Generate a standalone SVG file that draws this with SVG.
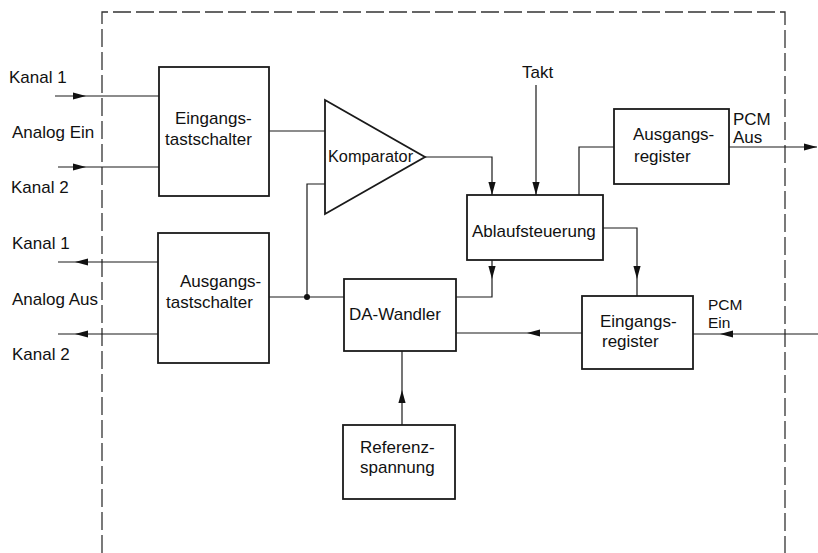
<svg xmlns="http://www.w3.org/2000/svg" xmlns:xlink="http://www.w3.org/1999/xlink" width="818" height="553" viewBox="0 0 818 553">
  <style>
    .box { fill: none; stroke: #1a1a1a; stroke-width: 1.8; }
    .wire { fill: none; stroke: #1a1a1a; stroke-width: 1.2; }
    .frame { fill: none; stroke: #333; stroke-width: 1.3; stroke-dasharray: 18 5; }
    .lbl { font-family: "Liberation Sans", Arial, sans-serif; font-size: 17px; fill: #111; }
    .small { font-size: 15.5px; }
    .head { fill: #111; stroke: none; }
  </style>
  <defs>
    <!-- filled arrowhead, tip at origin, pointing along +x -->
    <path id="ah" class="head" d="M0,0 L-13,-3.6 L-13,3.6 Z"/>
  </defs>
  <rect width="818" height="553" fill="#fff"/>

  <!-- chip boundary (dashed) -->
  <path class="frame" d="M102,553 L102,12 L785,12 L785,553"/>

  <!-- external labels -->
  <g id="analog-in-labels">
    <text class="lbl" x="9" y="83">Kanal 1</text>
    <text class="lbl" x="12" y="138">Analog Ein</text>
    <text class="lbl" x="11" y="193">Kanal 2</text>
  </g>
  <g id="analog-out-labels">
    <text class="lbl" x="12" y="249">Kanal 1</text>
    <text class="lbl" x="12" y="305">Analog Aus</text>
    <text class="lbl" x="12" y="360">Kanal 2</text>
  </g>
  <g id="takt-label">
    <text class="lbl" x="522" y="78">Takt</text>
  </g>
  <g id="pcm-out-label">
    <text class="lbl" x="733" y="125">PCM</text>
    <text class="lbl" x="733" y="143">Aus</text>
  </g>
  <g id="pcm-in-label">
    <text class="lbl small" x="708" y="310">PCM</text>
    <text class="lbl small" x="708" y="328">Ein</text>
  </g>

  <!-- blocks -->
  <g id="eingangstastschalter">
    <rect class="box" x="159" y="67" width="110" height="129"/>
    <text class="lbl" x="175" y="124">Eingangs-</text>
    <text class="lbl" x="165" y="145">tastschalter</text>
  </g>
  <g id="ausgangstastschalter">
    <rect class="box" x="158" y="233" width="111" height="130"/>
    <text class="lbl" x="180" y="287">Ausgangs-</text>
    <text class="lbl" x="166" y="308">tastschalter</text>
  </g>
  <g id="komparator">
    <path class="box" d="M325,100 L425,157 L325,214 Z"/>
    <text class="lbl" x="328" y="162" style="font-size:16.3px">Komparator</text>
  </g>
  <g id="ablaufsteuerung">
    <rect class="box" x="467" y="195" width="136" height="65"/>
    <text class="lbl" x="472" y="237">Ablaufsteuerung</text>
  </g>
  <g id="ausgangsregister">
    <rect class="box" x="614" y="109" width="115" height="75"/>
    <text class="lbl" x="633" y="140">Ausgangs-</text>
    <text class="lbl" x="634" y="162">register</text>
  </g>
  <g id="eingangsregister">
    <rect class="box" x="582" y="296" width="111" height="73"/>
    <text class="lbl" x="600" y="327">Eingangs-</text>
    <text class="lbl" x="602" y="347">register</text>
  </g>
  <g id="da-wandler">
    <rect class="box" x="344" y="279" width="112" height="72"/>
    <text class="lbl" x="349" y="320">DA-Wandler</text>
  </g>
  <g id="referenzspannung">
    <rect class="box" x="343" y="425" width="112" height="74"/>
    <text class="lbl" x="360" y="453">Referenz-</text>
    <text class="lbl" x="360" y="473">spannung</text>
  </g>

  <!-- connectors -->
  <g id="connectors">
    <!-- analog inputs -->
    <path class="wire" d="M55,96 L159,96"/>
    <use xlink:href="#ah" transform="translate(86,96)"/>
    <path class="wire" d="M58,167 L159,167"/>
    <use xlink:href="#ah" transform="translate(86,167)"/>
    <!-- analog outputs -->
    <path class="wire" d="M158,262 L58,262"/>
    <use xlink:href="#ah" transform="translate(75,262) rotate(180)"/>
    <path class="wire" d="M158,334 L58,334"/>
    <use xlink:href="#ah" transform="translate(75,334) rotate(180)"/>
    <!-- input switch to comparator -->
    <path class="wire" d="M269,131 L325,131"/>
    <!-- output switch / DA node feeding comparator -->
    <path class="wire" d="M269,297 L344,297"/>
    <path class="wire" d="M307,297 L307,184 L325,184"/>
    <circle cx="307" cy="297" r="3" fill="#111"/>
    <!-- comparator to sequencer -->
    <path class="wire" d="M425,157 L492,157 L492,195"/>
    <use xlink:href="#ah" transform="translate(492,195) rotate(90)"/>
    <!-- clock -->
    <path class="wire" d="M536,85 L536,195"/>
    <use xlink:href="#ah" transform="translate(536,195) rotate(90)"/>
    <!-- sequencer to output register -->
    <path class="wire" d="M579,195 L579,147 L614,147"/>
    <!-- PCM out -->
    <path class="wire" d="M729,147 L817,147"/>
    <use xlink:href="#ah" transform="translate(817,147)"/>
    <!-- sequencer to input register -->
    <path class="wire" d="M603,228 L637,228 L637,296"/>
    <use xlink:href="#ah" transform="translate(637,279) rotate(90)"/>
    <!-- sequencer to DA converter -->
    <path class="wire" d="M492,260 L492,297 L456,297"/>
    <use xlink:href="#ah" transform="translate(492,279) rotate(90)"/>
    <!-- PCM in -->
    <path class="wire" d="M818,334 L693,334"/>
    <use xlink:href="#ah" transform="translate(720,334) rotate(180)"/>
    <!-- input register to DA converter -->
    <path class="wire" d="M582,333 L456,333"/>
    <use xlink:href="#ah" transform="translate(527,333) rotate(180)"/>
    <!-- reference voltage to DA converter -->
    <path class="wire" d="M402,425 L402,351"/>
    <use xlink:href="#ah" transform="translate(402,390) rotate(-90)"/>
  </g>
</svg>
